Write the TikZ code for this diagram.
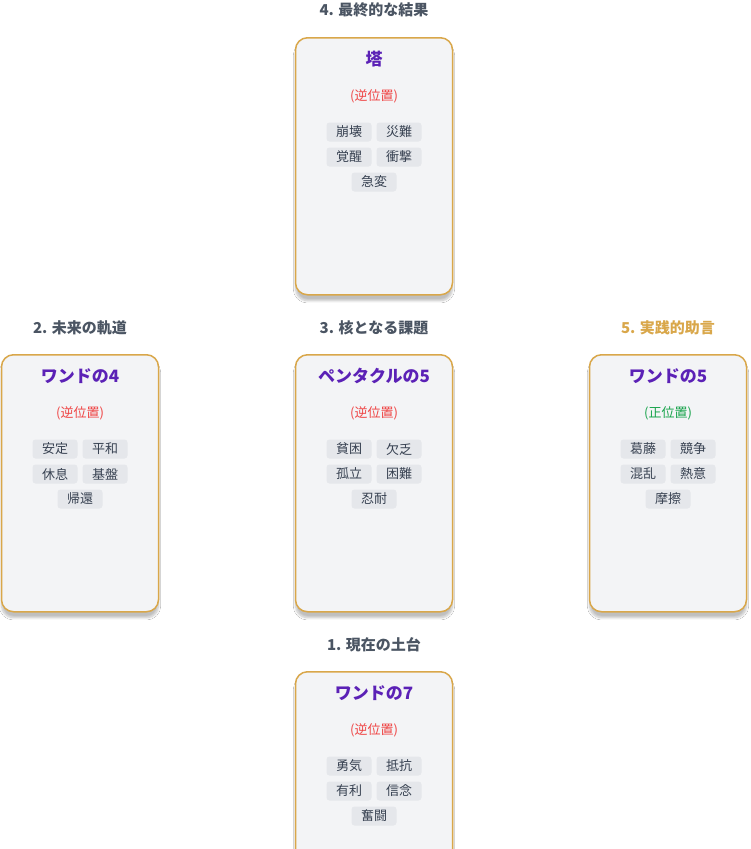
\documentclass[tikz,border=0pt]{standalone}
\usepackage{fontspec}
\setmainfont{Noto Sans CJK JP}
\usetikzlibrary{shadows.blur}
\definecolor{gold}{HTML}{D9A74A}
\definecolor{cardbg}{HTML}{F3F4F6}
\definecolor{tagbg}{HTML}{E5E7EB}
\definecolor{ttl}{HTML}{5B21B6}
\definecolor{rev}{HTML}{EF4444}
\definecolor{upr}{HTML}{16A34A}
\definecolor{lbl}{HTML}{4B5563}
\definecolor{tagtxt}{HTML}{374151}
\tikzset{x=1pt,y=-1pt,
 card/.style={draw=gold,line width=1.5pt,fill=cardbg,rounded corners=12pt,minimum width=157pt,minimum height=257pt,inner sep=0pt,blur shadow={shadow blur steps=8,shadow xshift=0pt,shadow yshift=-6pt,shadow opacity=25}},
 ctitle/.style={font=\fontsize{17}{20}\selectfont\bfseries,text=ttl},
 orient/.style={font=\fontsize{13}{15}\selectfont},
 tag/.style={fill=tagbg,rounded corners=3pt,minimum width=45pt,minimum height=19pt,inner sep=0pt,font=\fontsize{13}{15}\selectfont,text=tagtxt},
 poslbl/.style={font=\fontsize{15}{18}\selectfont\bfseries,text=lbl}}
\newcommand{\tcard}[9]{%
 \node[card,anchor=north] (#1) at (#2,#3) {};
 \node[ctitle] (#1t) at (#2,#3+22) {#4};
 \node[orient] (#1o) at (#2,#3+59) {#5};
 \node[tag] (#1a) at (#2-25,#3+95) {#6};
 \node[tag] (#1b) at (#2+25,#3+95) {#7};
 \node[tag] (#1c) at (#2-25,#3+120) {#8};
 \node[tag] (#1d) at (#2+25,#3+120) {#9};
}
\begin{document}
\begin{tikzpicture}
\useasboundingbox[fill=white] (0,0) rectangle (750,849);
\node[poslbl] (l4) at (374,10) {4. 最終的な結果};
\tcard{c4}{374}{37}{塔}{\textcolor{rev}{(逆位置)}}{崩壊}{災難}{覚醒}{衝撃}
\node[tag] (c4e) at (374,182) {急変};
\node[poslbl] (l2) at (80,328) {2. 未来の軌道};
\tcard{c2}{80}{354}{ワンドの4}{\textcolor{rev}{(逆位置)}}{安定}{平和}{休息}{基盤}
\node[tag] (c2e) at (80,499) {帰還};
\node[poslbl] (l3) at (374,328) {3. 核となる課題};
\tcard{c3}{374}{354}{ペンタクルの5}{\textcolor{rev}{(逆位置)}}{貧困}{欠乏}{孤立}{困難}
\node[tag] (c3e) at (374,499) {忍耐};
\node[poslbl,text=gold] (l5) at (668,328) {5. 実践的助言};
\tcard{c5}{668}{354}{ワンドの5}{\textcolor{upr}{(正位置)}}{葛藤}{競争}{混乱}{熱意}
\node[tag] (c5e) at (668,499) {摩擦};
\node[poslbl] (l1) at (374,645) {1. 現在の土台};
\tcard{c1}{374}{671}{ワンドの7}{\textcolor{rev}{(逆位置)}}{勇気}{抵抗}{有利}{信念}
\node[tag] (c1e) at (374,816) {奮闘};
\end{tikzpicture}
\end{document}
